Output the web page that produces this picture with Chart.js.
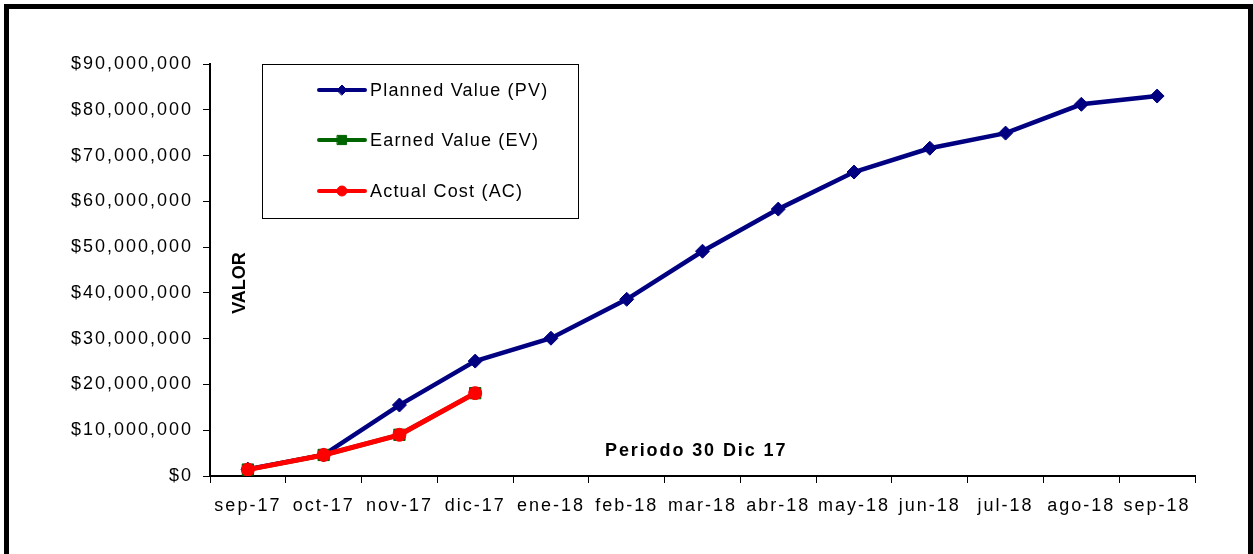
<!DOCTYPE html>
<html>
<head>
<meta charset="utf-8">
<script src="https://cdn.jsdelivr.net/npm/chart.js@4/dist/chart.umd.min.js"></script>
<style>
  html, body { margin: 0; padding: 0; background: #fff; }
  #wrap { position: relative; width: 1253px; height: 554px; }
</style>
</head>
<body>
<div id="wrap"><canvas id="c" width="1253" height="554"></canvas></div>
<script>
const categories = ['sep-17','oct-17','nov-17','dic-17','ene-18','feb-18','mar-18','abr-18','may-18','jun-18','jul-18','ago-18','sep-18'];
const plannedValue = [1500000, 4600000, 15500000, 25100000, 30100000, 38600000, 49100000, 58300000, 66400000, 71600000, 74900000, 81200000, 83000000];
const earnedValue  = [1400000, 4600000, 9000000, 18100000, null, null, null, null, null, null, null, null, null];
const actualCost   = [1400000, 4600000, 9000000, 18100000, null, null, null, null, null, null, null, null, null];
const yTicks = { min: 0, max: 90000000, step: 10000000 };
const seriesLabels = ['Planned Value (PV)', 'Earned Value (EV)', 'Actual Cost (AC)'];
const axisTitle = 'VALOR';
const periodNote = 'Periodo 30 Dic 17';

const FONT = 'Liberation Sans, Arial, sans-serif';

const spacingPlugin = {
  id: 'spacing',
  beforeLayout(chart) { chart.ctx.letterSpacing = '2px'; },
  beforeDraw(chart) { chart.ctx.letterSpacing = '2px'; }
};

const framePlugin = {
  id: 'frame',
  afterDraw(chart) {
    const ctx = chart.ctx;
    ctx.save();
    ctx.fillStyle = '#000';
    ctx.fillRect(4, 4, 1249, 5);
    ctx.fillRect(4, 4, 5, 550);
    ctx.fillRect(1248, 4, 5, 550);
    ctx.restore();
  }
};

const annotPlugin = {
  id: 'annot',
  afterDatasetsDraw(chart) {
    const ctx = chart.ctx;
    ctx.save();
    ctx.fillStyle = '#000';
    ctx.letterSpacing = '0px';
    ctx.font = 'bold 18px ' + FONT;
    ctx.textAlign = 'center';
    ctx.textBaseline = 'middle';
    ctx.translate(240, 283);
    ctx.rotate(-Math.PI / 2);
    ctx.fillText(axisTitle, 0, 0);
    ctx.restore();

    ctx.save();
    ctx.fillStyle = '#000';
    ctx.letterSpacing = '1.9px';
    ctx.font = 'bold 18px ' + FONT;
    ctx.textAlign = 'left';
    ctx.textBaseline = 'middle';
    ctx.fillText(periodNote, 605, 451);
    ctx.restore();

    // legend box
    ctx.save();
    ctx.letterSpacing = '1.2px';
    ctx.fillStyle = '#fff';
    ctx.fillRect(262, 64, 316, 154);
    ctx.strokeStyle = '#000';
    ctx.lineWidth = 1;
    ctx.strokeRect(262.5, 64.5, 316, 154);
    const rows = [90, 140, 191];
    chart.data.datasets.forEach((ds, i) => {
      const y = rows[i];
      ctx.strokeStyle = ds.borderColor;
      ctx.lineWidth = 4;
      ctx.lineCap = 'round';
      ctx.beginPath();
      ctx.moveTo(319, y);
      ctx.lineTo(365, y);
      ctx.stroke();
      ctx.fillStyle = ds.pointBackgroundColor;
      ctx.strokeStyle = ds.pointBorderColor;
      ctx.lineWidth = 1;
      Chart.helpers.drawPoint(ctx, {pointStyle: ds.pointStyle, radius: ds.legendRadius, borderWidth: 1}, 342, y);
      ctx.fillStyle = '#000';
      ctx.font = '18px ' + FONT;
      ctx.textAlign = 'left';
      ctx.textBaseline = 'middle';
      ctx.fillText(ds.label, 370, y + 1);
    });
    ctx.restore();
  }
};

new Chart(document.getElementById('c'), {
  type: 'line',
  data: {
    labels: categories,
    datasets: [
      {
        label: seriesLabels[0], data: plannedValue, order: 3,
        borderColor: '#000080', backgroundColor: '#000080',
        pointBackgroundColor: '#000080', pointBorderColor: '#000080',
        borderWidth: 4.5, pointStyle: 'rectRot', pointRadius: 7, pointBorderWidth: 1,
        legendRadius: 5, tension: 0
      },
      {
        label: seriesLabels[1], data: earnedValue, order: 2,
        borderColor: '#006400', backgroundColor: '#006400',
        pointBackgroundColor: '#006400', pointBorderColor: '#006400',
        borderWidth: 4.5, pointStyle: 'rect', pointRadius: 8, pointBorderWidth: 1,
        legendRadius: 6.5, tension: 0, spanGaps: false
      },
      {
        label: seriesLabels[2], data: actualCost, order: 1,
        borderColor: '#ff0000', backgroundColor: '#ff0000',
        pointBackgroundColor: '#ff0000', pointBorderColor: '#ff0000',
        borderWidth: 5, pointStyle: 'circle', pointRadius: 6.5, pointBorderWidth: 1,
        legendRadius: 5, tension: 0, spanGaps: false
      }
    ]
  },
  options: {
    responsive: false,
    animation: false,
    devicePixelRatio: 1,
    layout: { padding: { left: 0, right: 58, top: 64, bottom: 0 } },
    plugins: { legend: { display: false }, tooltip: { enabled: false }, title: { display: false } },
    scales: {
      x: {
        type: 'category',
        offset: true,
        grid: { display: true, offset: true, drawOnChartArea: false, drawTicks: true, tickLength: 7, tickColor: '#000', tickWidth: 1 },
        border: { display: true, color: '#000', width: 2 },
        ticks: { color: '#000', font: { family: FONT, size: 18 }, padding: 12, maxRotation: 0, autoSkip: false },
        afterFit(s) { s.height = 78; }
      },
      y: {
        min: yTicks.min, max: yTicks.max,
        grid: { display: true, drawOnChartArea: false, drawTicks: true, tickLength: 7, tickColor: '#000', tickWidth: 1 },
        border: { display: true, color: '#000', width: 2 },
        ticks: {
          stepSize: yTicks.step, color: '#000', font: { family: FONT, size: 18 }, padding: 10,
          callback: v => '$' + Number(v).toLocaleString('en-US')
        },
        afterFit(s) { s.width = 210; }
      }
    }
  },
  plugins: [spacingPlugin, annotPlugin, framePlugin]
});
</script>
</body>
</html>
